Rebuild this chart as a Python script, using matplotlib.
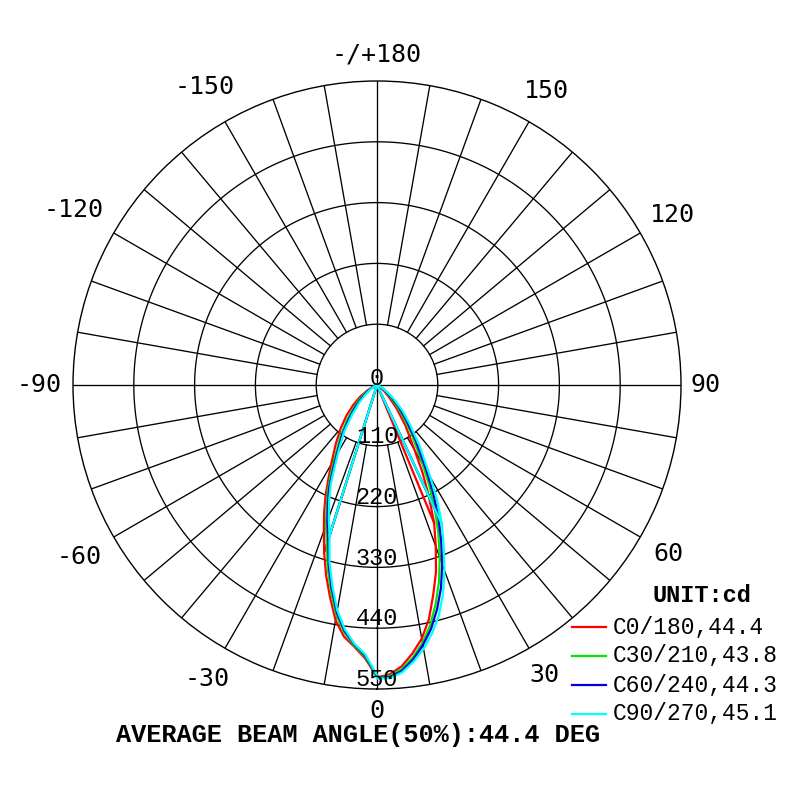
import numpy as np
import matplotlib
matplotlib.use("Agg")
import matplotlib.pyplot as plt
from matplotlib.lines import Line2D

# gamma angles (deg) for one half of a C-plane pair
gamma = [0, 2.5, 5, 7.5, 10, 12.5, 15, 17.5, 20, 22.5, 25, 27.5, 30,
         35, 40, 45, 50, 55, 60, 70, 80, 90]

# intensity (cd), left half (negative gamma) and right half
red_left = [528, 495, 475, 459, 432, 393, 356, 318, 281, 250, 220, 190, 166,
            130, 102, 78, 56, 38, 21, 6, 1, 0]
red_right = [529, 524, 511, 490, 466, 434, 393, 355, 311, 270, 222, 178, 136,
             90, 55, 30, 16, 9, 5, 1, 0, 0]
green_left = [527, 492, 473, 452, 423, 384, 344, 302, 270, 238, 210, 180, 153,
              117, 86, 62, 42, 27, 15, 4, 1, 0]
green_right = [530, 527, 516, 497, 474, 445, 410, 373, 332, 290, 248, 205, 165,
               110, 72, 46, 28, 16, 8, 2, 0, 0]
blue_left = [526, 490, 471, 449, 418, 378, 337, 293, 262, 232, 204, 172, 146,
             110, 78, 54, 35, 21, 11, 3, 0, 0]
blue_right = [530, 529, 519, 501, 478, 452, 420, 385, 345, 303, 262, 220, 180,
              122, 82, 55, 34, 20, 10, 2, 0, 0]
cyan_left = [525, 488, 470, 446, 414, 373, 332, 286, 255, 226, 198, 165, 140,
             104, 70, 46, 28, 16, 8, 2, 0, 0]
cyan_right = [531, 531, 522, 505, 485, 460, 432, 397, 357, 315, 278, 236, 194,
              134, 92, 64, 40, 24, 12, 3, 0, 0]

planes = ["C0/180", "C30/210", "C60/240", "C90/270"]
beam_angles = [44.4, 43.8, 44.3, 45.1]
lefts = [red_left, green_left, blue_left, cyan_left]
rights = [red_right, green_right, blue_right, cyan_right]
join_left = [17.5, 17.5, 17.5, 17.5]
join_right = [22.5, 25, 25, 25]
colors = ["#ff0000", "#00e600", "#0000dd", "#00ffff"]

ring_values = [0, 110, 220, 330, 440, 550]
angle_ticks = [0, 30, 60, 90, 120, 150, 180, -150, -120, -90, -60, -30]
angle_names = ["0", "30", "60", "90", "120", "150", "-/+180",
               "-150", "-120", "-90", "-60", "-30"]
angle_rad_px = [326, 335, 337, 329, 341, 339, 330, 344, 350, 338, 344, 339]

mono = "Liberation Mono"
px2r = 550 / 304

fig = plt.figure(figsize=(8, 8), dpi=100)
ax = fig.add_axes([0.09125, 0.13875, 0.76, 0.76], projection="polar")
ax.set_theta_zero_location("S")
ax.set_theta_direction(1)
ax.set_ylim(0, 550)
ax.set_xticks([])
ax.set_yticks([])
ax.grid(False)
ax.spines["polar"].set_color("black")
ax.spines["polar"].set_linewidth(1.0)

# grid rings and spokes
full = np.linspace(0, 2 * np.pi, 721)
for rv in ring_values[1:-1]:
    ax.plot(full, np.full_like(full, rv), color="black", lw=0.95, zorder=1)
for a in range(0, 360, 10):
    start = 0 if a % 90 == 0 else 110
    ax.plot([np.deg2rad(a)] * 2, [start, 550], color="black", lw=0.95, zorder=1)

# curves
g = np.array(gamma)
for i in range(4):
    th = np.deg2rad(np.concatenate([-g[::-1], g]))
    rr = np.concatenate([np.array(lefts[i])[::-1], rights[i]])
    ax.plot(th, rr, color=colors[i], lw=1.6, zorder=3 + i)
    jl = gamma.index(join_left[i])
    jr = gamma.index(join_right[i])
    ax.plot([np.deg2rad(-join_left[i])] * 2, [0, lefts[i][jl]],
            color=colors[i], lw=1.6, zorder=3 + i)
    ax.plot([np.deg2rad(join_right[i])] * 2, [0, rights[i][jr]],
            color=colors[i], lw=1.6, zorder=3 + i)

# radial labels
for rv in ring_values:
    ax.text(0, max(rv - 5, 0), str(rv), ha="center", va="baseline",
            family=mono, fontsize=17, zorder=10)

# angle labels
for a, s, rp in zip(angle_ticks, angle_names, angle_rad_px):
    ax.text(np.deg2rad(a), rp * px2r, s, ha="center", va="center",
            family="DejaVu Sans Mono", fontsize=18)

# legend
fig.text(702 / 800, 1 - 596 / 800, "UNIT:cd", ha="center", va="center",
         family=mono, fontweight="bold", fontsize=17)
for i in range(4):
    y = 1 - (627 + 29 * i) / 800
    fig.add_artist(Line2D([572 / 800, 606 / 800], [y, y], color=colors[i], lw=1.6))
    fig.text(613 / 800, y, "%s,%.1f" % (planes[i], beam_angles[i]),
             ha="left", va="center", family=mono, fontsize=16.5)

avg = np.mean(beam_angles)
fig.text(358 / 800, 1 - 735 / 800, "AVERAGE BEAM ANGLE(50%%):%.1f DEG" % avg,
         ha="center", va="center", family=mono, fontweight="bold", fontsize=18.2)

fig.savefig("out.png", dpi=100)
